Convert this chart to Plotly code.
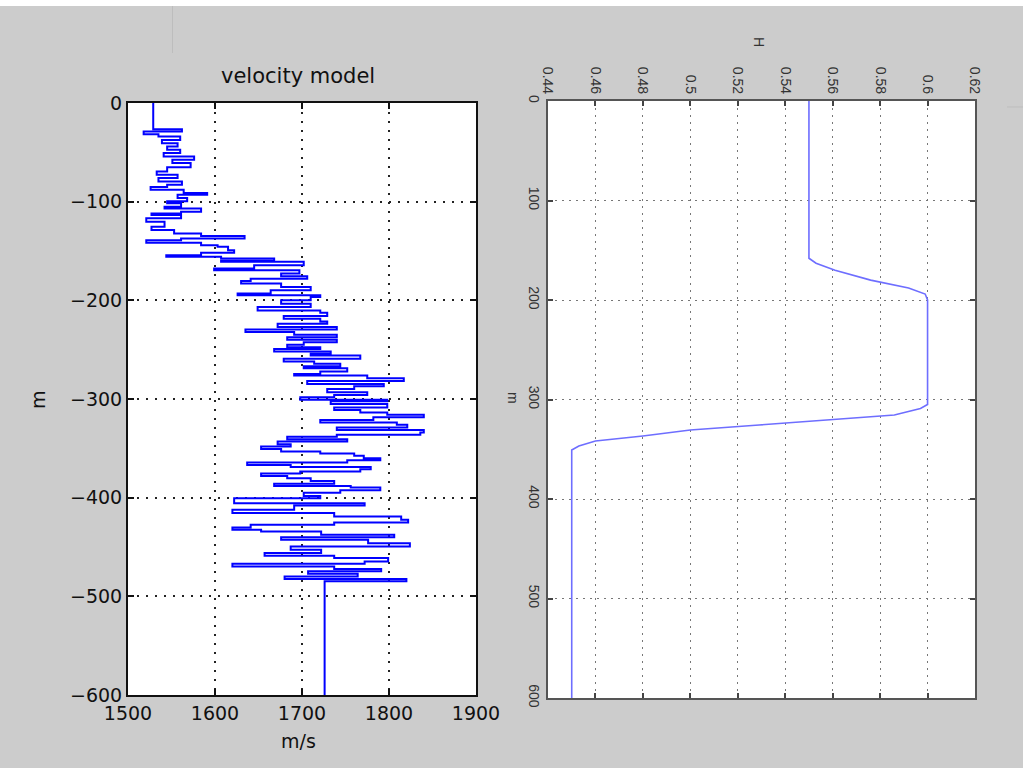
import plotly.graph_objects as go

# ---------------- data ----------------
vel_depth = [0, -25.6, -26.6, -29, -31.6, -34, -37.4, -40.7, -44.1, -47.5, -50.8, -54.2, -57.6, -60.9, -65,
             -69.4, -72.7, -76.1, -79.5, -82.8, -85.2, -87.9, -91.2, -92.9, -96.3, -99.7,
             -101.7, -105.1, -106.8, -110.2, -111.9, -113.6, -116.9, -120.3, -125.4, -128.8, -132.2, -134.9,
             -137.3, -139, -141.7, -144.1, -145.8, -149.2, -151.9, -154.2, -155.9, -157.6, -160, -161, -164.4,
             -167.8, -169.5, -172.9, -175.6, -178, -180.3, -183, -186.4, -189.8, -193.2, -194.9, -196.6, -200,
             -203.4, -206.8, -210.2, -212.5, -215.9, -218.6, -221.4, -223.7, -227.1, -229.5,
             -232.2, -234.9, -237.3, -240, -242.4, -245.1, -247.5, -249.2, -251.9, -254.2,
             -255.9, -259.3, -262, -264.4, -266.8, -268.8, -272.2, -274.6, -276.3, -279,
             -281.7, -284.7, -287.1, -289.8, -293.2, -295.9, -298.3, -300.7,
             -302.4, -305.1, -308.5, -311.2, -313.6, -315.9, -318.6, -321.4, -323.7, -326.1,
             -328.8, -331.5, -333.9, -336.3, -338.3, -340.7, -343.1, -345.8, -348.1, -350.8,
             -353.2, -355.3, -357.6, -360, -362, -364.4, -366.8, -368.8, -371.2, -373.6,
             -375.6, -378, -380.3, -383.1, -385.8, -388.1, -389.8, -392.5, -394.9, -398.3, -400.7,
             -405.6, -408, -412.3, -415.6, -419, -422.4, -425.2, -427.5, -430.2, -432.6,
             -434.3, -437.6, -440, -442.7, -446.1, -449.4, -452.8, -456.2, -458.9, -461.2,
             -464.6, -467, -469.7, -472.4, -474.7, -477.1, -479.8, -482.5, -484.8, -600]

velocity = [1529, 1529, 1562, 1518, 1535, 1560, 1539, 1557, 1545, 1560, 1541, 1576, 1551, 1572, 1545,
            1533, 1557, 1535, 1562, 1545, 1526, 1564, 1591, 1557, 1568, 1545,
            1561, 1542, 1584, 1561, 1527, 1561, 1521, 1542, 1527, 1553, 1584, 1634,
            1561, 1521, 1584, 1603, 1615, 1622, 1584, 1544, 1607, 1668, 1607, 1702, 1645,
            1599, 1697, 1676, 1706, 1641, 1630, 1676, 1710, 1664, 1626, 1721, 1710, 1676,
            1710, 1649, 1721, 1729, 1679, 1721, 1729, 1672, 1740, 1635,
            1691, 1740, 1683, 1740, 1702, 1683, 1721, 1668, 1733, 1710,
            1767, 1679, 1714, 1744, 1702, 1752, 1721, 1691, 1775, 1817,
            1706, 1794, 1760, 1729, 1775, 1737, 1698, 1798,
            1733, 1798, 1737, 1767, 1798, 1840, 1782, 1721, 1809, 1821,
            1740, 1840, 1836, 1740, 1683, 1752, 1672, 1687, 1653, 1676,
            1721, 1760, 1771, 1790, 1752, 1637, 1687, 1779, 1767, 1698,
            1653, 1683, 1710, 1737, 1668, 1756, 1790, 1744, 1702, 1721, 1622,
            1772, 1691, 1620, 1737, 1814, 1822, 1737, 1641, 1620, 1653,
            1722, 1806, 1676, 1776, 1824, 1687, 1722, 1657, 1737, 1799,
            1772, 1620, 1737, 1791, 1707, 1764, 1680, 1820, 1726, 1726]

h_depth = [0, 158, 163, 170, 180, 188, 194, 200, 305, 309, 315.6, 320.6, 325.6, 330.7, 336.7, 341.7, 346.7, 350.8, 600]
h_value = [0.55, 0.55, 0.553, 0.561, 0.576, 0.592, 0.599, 0.6, 0.6, 0.597, 0.586, 0.559, 0.529, 0.5, 0.48, 0.46, 0.453, 0.45, 0.45]

vel_ticks = [1500, 1600, 1700, 1800, 1900]
vel_ticklabels = ["1500", "1600", "1700", "1800", "1900"]
depth_ticks = [0, -100, -200, -300, -400, -500, -600]
depth_ticklabels = ["0", "\u2212100", "\u2212200", "\u2212300", "\u2212400", "\u2212500", "\u2212600"]
h_ticks = [0.44, 0.46, 0.48, 0.5, 0.52, 0.54, 0.56, 0.58, 0.6, 0.62]
h_ticklabels = ["0.44", "0.46", "0.48", "0.5", "0.52", "0.54", "0.56", "0.58", "0.6", "0.62"]
m_ticks = [0, 100, 200, 300, 400, 500, 600]
m_ticklabels = ["0", "100", "200", "300", "400", "500", "600"]

# ---------------- figure ----------------
W, H = 1023, 768
BG = "#cccccc"

def px_x(p):
    return p / W

def px_y(p):
    return 1 - p / H

fig = go.Figure()
fig.add_trace(go.Scatter(x=velocity, y=vel_depth, mode="lines", line=dict(color="#0000ff", width=2, shape="vh"),
                         xaxis="x", yaxis="y", showlegend=False, hoverinfo="skip"))
fig.add_trace(go.Scatter(x=h_value, y=h_depth, mode="lines", line=dict(color="#6e6eff", width=1.6),
                         xaxis="x2", yaxis="y2", showlegend=False, hoverinfo="skip"))

left_font = dict(family="DejaVu Sans", size=19, color="#111111")
right_font = dict(family="Liberation Sans, Arial", size=14, color="#333333")

common_left = dict(showline=True, linecolor="#111111", linewidth=2, mirror="ticks", ticks="inside", ticklen=6,
                   tickwidth=2, tickcolor="#111111", showgrid=True, gridcolor="#222222", gridwidth=1.6,
                   griddash="2px,7px", zeroline=False, tickfont=left_font, tickmode="array", automargin=False)
common_right = dict(showline=True, linecolor="#555555", linewidth=2, mirror="ticks", ticks="inside", ticklen=5,
                    tickwidth=2, tickcolor="#444444", showgrid=True, gridcolor="#777777", gridwidth=1.2,
                    griddash="2px,5px", zeroline=False, tickfont=right_font, tickmode="array", automargin=False)

fig.update_layout(
    template="none",
    width=W, height=H, margin=dict(l=0, r=0, t=0, b=0, pad=0, autoexpand=False),
    paper_bgcolor=BG, plot_bgcolor="#ffffff",
    xaxis=dict(domain=[px_x(128), px_x(476)], range=[1500, 1900], anchor="y",
               tickvals=vel_ticks, ticktext=vel_ticklabels, **common_left),
    yaxis=dict(domain=[px_y(695), px_y(103)], range=[-600, 0], anchor="x",
               tickvals=depth_ticks, ticktext=depth_ticklabels, **common_left),
    xaxis2=dict(domain=[px_x(548), px_x(975)], range=[0.44, 0.62], anchor="y2", side="top",
                tickvals=h_ticks, ticktext=h_ticklabels, tickangle=90, **common_right),
    yaxis2=dict(domain=[px_y(698), px_y(101)], range=[600, 0], anchor="x2",
                tickvals=m_ticks, ticktext=m_ticklabels, tickangle=90, **common_right),
)

annotations = [
    dict(text="velocity model", x=px_x(298), y=px_y(76), font=dict(family="DejaVu Sans", size=21, color="#111111")),
    dict(text="m/s", x=px_x(298), y=px_y(741), font=dict(family="DejaVu Sans", size=19, color="#111111")),
    dict(text="m", x=px_x(38), y=px_y(400), textangle=-90, font=dict(family="DejaVu Sans", size=19, color="#111111")),
    dict(text="H", x=px_x(759), y=px_y(42), textangle=90, font=dict(family="Liberation Sans, Arial", size=14, color="#333333")),
    dict(text="m", x=px_x(513), y=px_y(398), textangle=90, font=dict(family="Liberation Sans, Arial", size=14, color="#333333")),
]
for a in annotations:
    a.update(xref="paper", yref="paper", showarrow=False, xanchor="center", yanchor="middle")
fig.update_layout(annotations=annotations)

fig.update_layout(shapes=[
    dict(type="rect", xref="paper", yref="paper", x0=0, x1=1, y0=px_y(6), y1=1, fillcolor="#ffffff",
         line=dict(width=0), layer="below"),
    dict(type="line", xref="paper", yref="paper", x0=px_x(172.5), x1=px_x(172.5), y0=px_y(6), y1=px_y(53),
         line=dict(color="#bdbdbd", width=1)),
    dict(type="line", xref="paper", yref="paper", x0=px_x(1007), x1=1, y0=px_y(107), y1=px_y(107),
         line=dict(color="#bdbdbd", width=1)),
])

post = """
document.documentElement.style.margin='0';
document.body.style.margin='0';
document.body.style.background='#cccccc';
"""
fig.write_html("out.html", post_script=post, config={"displayModeBar": False})
